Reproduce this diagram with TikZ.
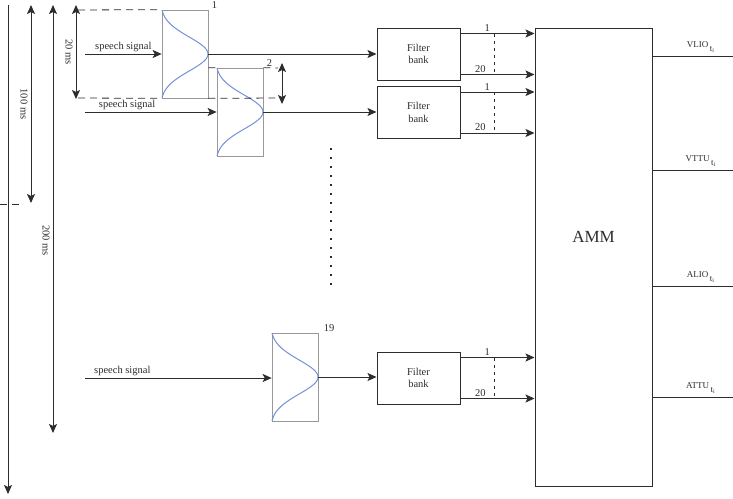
\documentclass[tikz,border=0pt]{standalone}
\usepackage{xcolor, amsmath, amssymb}
\usepackage{fontspec}
\setmainfont{Liberation Serif}
\usetikzlibrary{arrows.meta}
\definecolor{linegray}{RGB}{45,45,45}
\definecolor{curveblue}{RGB}{115,145,215}

\begin{document}
\begin{tikzpicture}[x=1pt,y=-1pt,color=linegray,line width=1pt,
  every node/.style={font=\fontsize{10.5}{12.5}\selectfont},
  >={Stealth[length=9pt,width=8pt,inset=2pt]},
  win/.style={draw=gray!80,line width=0.7pt,minimum width=46pt,minimum height=88pt,inner sep=0pt},
  fbank/.style={draw,minimum width=83pt,minimum height=52pt,align=center,inner sep=0pt},
  num/.style={inner sep=1.5pt},
  sig/.style={above,inner sep=1.5pt},
  winlbl/.style={inner sep=1pt,anchor=south west},
  span/.style={rotate=-90,anchor=north,inner sep=3pt},
  gap/.style={dash pattern=on 7pt off 5pt,line width=0.8pt}]
\useasboundingbox (0,0) rectangle (733,498);
% time spans
\draw[->] (8,5) -- (8,494);
\draw[gap] (0,204) -- (22,204);
\draw[<->] (31,5) -- (31,203) node[span,midway]{100 ms};
\draw[<->] (53,5) -- (53,433) node[span,pos=0.55]{200 ms};
\draw[<->] (76,5) -- (76,99) node[span,midway]{20 ms};
% windows
\node[win] at (185,54)(w1){};
\node[win] at (240,112)(w2){};
\node[win] at (295,377)(w19){};
\node[winlbl,xshift=2pt] at (w1.north east)(n1){1};
\node[winlbl,xshift=2pt] at (w2.north east)(n2){2};
\node[winlbl,xshift=4pt] at (w19.north east)(n19){19};
\foreach \w in {w1,w2,w19}
  \draw[curveblue,line width=1pt,shift={(\w.center)}]
    plot[domain=-44:44,samples=60,smooth] ({-23+46*(exp(-(\x/24)^2)-0.0347)/0.9653},\x);
\draw[gap] (78,10) -- (w1.north west);
\draw[gap] (78,98) -- (w1.south west) (w1.south east) -- (278,98);
\draw[gap] (w1.east |- w2.north) -- (w2.north west) (w2.north east) -- (278,68);
\draw[<->] (282,63) -- (282,104);
% speech signals
\coordinate (s1) at (85,54);
\coordinate (s2) at (85,112);
\coordinate (s3) at (85,378);
\draw[->] (s1) -- (w1.west) node[sig,pos=0.5]{speech signal};
\draw[->] (s2) -- (s2 -| w2.west) node[sig,pos=0.32]{speech signal};
\draw[->] (s3) -- (s3 -| w19.west) node[sig,pos=0.2]{speech signal};
% filter banks
\node[fbank] at (418.5,54)(fb1){Filter\\bank};
\node[fbank] at (418.5,112.5)(fb2){Filter\\bank};
\node[fbank] at (418.5,378)(fb3){Filter\\bank};
\node[draw,minimum width=117pt,minimum height=458pt] at (593.5,257)(amm){};
\node[font=\fontsize{17}{20}\selectfont] at (593.5,237)(ammtxt){AMM};
\draw[->] (w1.east) -- (fb1.west);
\draw[->] (w2.east) -- (w2.east -| fb2.west);
\draw[->] (w19.east) -- (w19.east -| fb3.west);
\foreach \f in {fb1,fb2,fb3}{
  \draw[->] ([yshift=-6pt]\f.north east) -- ([yshift=-6pt]\f.north east -| amm.west)
    node[num,pos=0.36,above]{1};
  \draw[->] ([yshift=6pt]\f.south east) -- ([yshift=6pt]\f.south east -| amm.west)
    node[num,pos=0.27,above]{20};
  \draw[dash pattern=on 3pt off 4pt,line width=0.7pt]
    ([xshift=34pt,yshift=-6pt]\f.north east) -- ([xshift=34pt,yshift=6pt]\f.south east);
}
\draw[dash pattern=on 1.5pt off 7.5pt,line width=1.2pt] (331,148) -- (331,285);
% outputs
\foreach \y/\t in {56/VLIO,170/VTTU,286/ALIO,397/ATTU}
  \draw (amm.east |- 0,\y) -- (733,\y)
    node[pos=0.6,above,font=\small,inner sep=3pt]{\t\,\raisebox{-4.5pt}{t\textsubscript{i}}};
\end{tikzpicture}
\end{document}
